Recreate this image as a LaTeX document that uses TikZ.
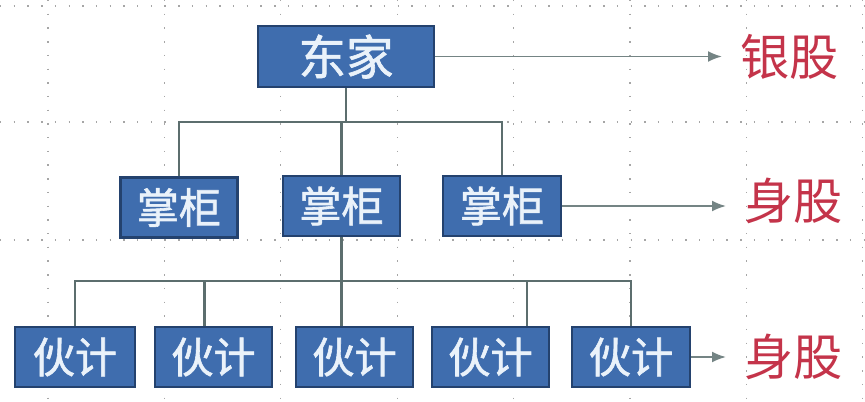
\documentclass[tikz,border=0pt]{standalone}
\usepackage{fontspec}
\usepackage{xcolor}
\usetikzlibrary{arrows.meta,positioning,calc}
\newfontfamily\cjk{Noto Sans CJK SC}
\newfontfamily\cjkbold[FakeBold=1.4]{Noto Sans CJK SC}
\definecolor{boxBlue}{HTML}{3F6DAE}
\definecolor{boxEdge}{HTML}{24426E}
\definecolor{boxText}{HTML}{EAF2FA}
\definecolor{linkGray}{HTML}{5C6E6E}
\definecolor{shareRed}{HTML}{C4344A}
\tikzset{
  grid line/.style={draw=black!35,line width=0.6pt,dash pattern=on 0.8pt off 7pt},
  link line/.style={draw=linkGray,line width=1.5pt},
  share arrow/.style={-{Latex[length=2.8mm,width=2.2mm]},draw=linkGray!85,
    line width=1.1pt,shorten >=0.36cm},
  rank node/.style={draw=boxEdge,fill=boxBlue,line width=1.2pt,text=boxText,
    font=\cjkbold\fontsize{24}{26}\selectfont,inner sep=0pt,align=center},
  share node/.style={text=shareRed,font=\cjk\fontsize{28}{30}\selectfont,inner sep=0pt}
}
\begin{document}
\begin{tikzpicture}
  \useasboundingbox (0,0) rectangle (17.3,-8.02);
  \fill[white] (0,0) rectangle (17.3,-8.02);
  \foreach \gx in {0,...,7}
    \draw[grid line] ({0.96+2.328*\gx},0) -- ({0.96+2.328*\gx},-8.02);
  \foreach \gy in {-0.12,-2.44,-4.8}
    \draw[grid line] (0,\gy) -- (17.3,\gy);

  \node[rank node,minimum width=3.52cm,minimum height=1.22cm,
    font=\cjkbold\fontsize{27}{29}\selectfont] (boss) at (6.92,-1.13) {东家};

  \node[rank node,minimum width=2.34cm,minimum height=1.2cm] (mgrA) at (3.58,-4.15) {掌柜};
  \node[rank node,minimum width=2.34cm,minimum height=1.2cm] (mgrB) at (6.83,-4.12) {掌柜};
  \node[rank node,minimum width=2.36cm,minimum height=1.2cm] (mgrC) at (10.04,-4.12) {掌柜};

  \node[rank node,minimum width=2.4cm,minimum height=1.2cm] (hndA) at (1.5,-7.14) {伙计};
  \node[rank node,minimum width=2.34cm,minimum height=1.2cm] (hndB) at (4.27,-7.14) {伙计};
  \node[rank node,minimum width=2.34cm,minimum height=1.2cm] (hndC) at (7.09,-7.14) {伙计};
  \node[rank node,minimum width=2.34cm,minimum height=1.2cm] (hndD) at (9.81,-7.14) {伙计};
  \node[rank node,minimum width=2.36cm,minimum height=1.2cm] (hndE) at (12.62,-7.14) {伙计};

  \node[share node,anchor=west] (silver) at (14.8,-1.14) {银股};
  \node[share node,anchor=west] (bodyA) at (14.88,-4.02) {身股};
  \node[share node,anchor=west] (bodyB) at (14.88,-7.14) {身股};

  \coordinate (busTop) at (0,-2.44);
  \coordinate (busLow) at (0,-5.62);
  \coordinate (stemD) at ($(hndD.north)+(0.73,0)$);

  \draw[link line] (boss.south) -- (boss.south |- busTop);
  \draw[link line] (mgrA.north) -- (mgrA.north |- busTop) -- (mgrC.north |- busTop) -- (mgrC.north);
  \draw[link line] (mgrB.north) -- (mgrB.north |- busTop);

  \draw[link line] (mgrB.south) -- (mgrB.south |- busLow);
  \draw[link line] (hndA.north) -- (hndA.north |- busLow) -- (hndE.north |- busLow) -- (hndE.north);
  \draw[link line] ($(hndB.north)+(-0.18,0)$) -- ($(hndB.north |- busLow)+(-0.18,0)$);
  \draw[link line] ($(hndC.north)+(-0.26,0)$) -- ($(hndC.north |- busLow)+(-0.26,0)$);
  \draw[link line] (stemD) -- (stemD |- busLow);

  \draw[share arrow] (boss.east) -- (boss.east -| silver.west);
  \draw[share arrow] (mgrC.east) -- (mgrC.east -| bodyA.west);
  \draw[share arrow] (hndE.east) -- (hndE.east -| bodyB.west);
\end{tikzpicture}
\end{document}
